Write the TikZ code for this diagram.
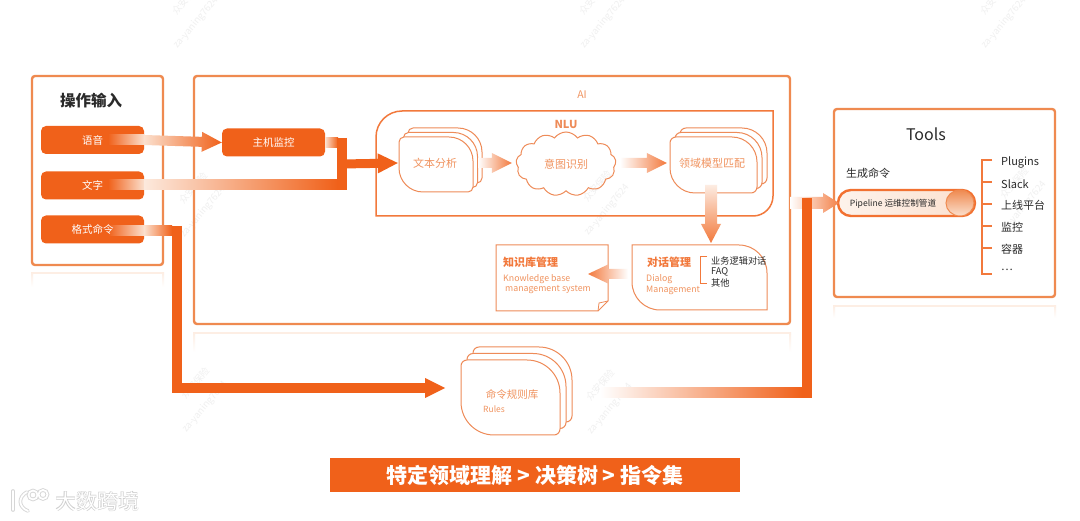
\documentclass[tikz,border=0pt]{standalone}
\usepackage{fontspec}
\setmainfont{Noto Sans CJK SC}
\usetikzlibrary{calc,shapes.symbols}
\definecolor{ora}{HTML}{F0611A}
\definecolor{fra}{HTML}{EF8A50}
\definecolor{crd}{HTML}{EE8B58}
\definecolor{txo}{HTML}{F0935F}
\definecolor{lite}{HTML}{FBE0CE}
\definecolor{wmc}{HTML}{F0F0F0}
\definecolor{ink}{HTML}{2A2A2A}
\tikzset{
  framebox/.style={draw=fra,line width=2.4pt,rounded corners=3pt},
  btn/.style={fill=ora,rounded corners=5pt,minimum height=28pt,minimum width=103pt,inner sep=0pt},
  btntext/.style={inner sep=0pt,text=white,font=\fontsize{10.5}{12}\selectfont},
  route/.style={draw=ora,line width=10pt,miter limit=10},
  softline/.style={draw=crd,line width=1pt,fill=white},
  lbl/.style={inner sep=0pt,text=txo,font=\fontsize{11}{13}\selectfont},
  lblb/.style={inner sep=0pt,text=ora!85!white,font=\fontsize{11}{13}\selectfont\bfseries},
  lbls/.style={inner sep=0pt,anchor=west,text=txo,font=\fontsize{8.8}{10}\selectfont},
  dark/.style={inner sep=0pt,anchor=west,text=ink,font=\fontsize{11}{13}\selectfont},
  wm/.style={inner sep=0pt,text=wmc,rotate=50,font=\fontsize{9.5}{11}\selectfont},
  refl/.style={draw=lite!55!white,line width=2pt},
  brk/.style={draw=ora!85!white,line width=1.4pt},
  logogrey/.style={draw=black!16,line width=3.6pt,line cap=round},
  logowhite/.style={draw=white,line width=1.8pt,line cap=round},
}
% x, y, w, h, big radius, small radius : leaf-shaped card
\newcommand\leafcard[6]{%
  \path[softline] (#1+#6,#2) -- (#1+#3-#5,#2) arc[start angle=90,end angle=0,x radius=#5,y radius=-#5]
   -- (#1+#3,#2+#4-#6) arc[start angle=0,end angle=-90,x radius=#6,y radius=-#6]
   -- (#1+#5,#2+#4) arc[start angle=-90,end angle=-180,x radius=#5,y radius=-#5]
   -- (#1,#2+#6) arc[start angle=180,end angle=90,x radius=#6,y radius=-#6] -- cycle;}
% as above, then layer shift dx, dy
\newcommand\stackcard[8]{%
  \leafcard{#1+2*#7}{#2-2*#8}{#3}{#4}{#5}{#6}\leafcard{#1+#7}{#2-#8}{#3}{#4}{#5}{#6}\leafcard{#1}{#2}{#3}{#4}{#5}{#6}}
% style, from, to, half shaft, head length, half head
\newcommand\gradarrow[6]{%
  \coordinate (ga) at #2; \coordinate (gb) at #3;
  \coordinate (gh) at ($(gb)!#5pt!(ga)$);
  \path[#1] ($(ga)!#4pt!90:(gb)$) -- ($(gh)!#4pt!90:(gb)$) -- ($(gh)!#6pt!90:(gb)$) -- (gb)
    -- ($(gh)!#6pt!-90:(gb)$) -- ($(gh)!#4pt!-90:(gb)$) -- ($(ga)!#4pt!-90:(gb)$) -- cycle;}
% x left, y top, x right, y bottom: faint reflection under a frame
\newcommand\reflect[4]{%
  \draw[refl] (#1,#2) -- (#3,#2);
  \path[top color=lite!55!white,bottom color=white] (#1-1,#2) rectangle (#1+1,#4);
  \path[top color=lite!55!white,bottom color=white] (#3-1,#2) rectangle (#3+1,#4);}
\begin{document}
\begin{tikzpicture}[x=1pt,y=-1pt]
\useasboundingbox (0,0) rectangle (1080,521);
\fill[white] (0,0) rectangle (1080,521);
% watermarks
\foreach \i/\x/\y in {a/186/-1,b/593/-1,c/994/-1,d/193/188,e/597/186,f/1014/183,g/195/383,h/600/385}{
  \node[wm] (wm\i) at (\x,\y) {众安保险};
  \node[wm] (wz\i) at (\x+10,\y+24) {za-yaning7624};
}
% reflections
\reflect{32}{273}{163}{287}
\reflect{194}{333}{790}{352}
\reflect{834}{306}{1055}{318}
% frames
\draw[framebox] (32,76) rectangle (163,265);
\draw[framebox] (194,76) rectangle (790,324);
\draw[framebox] (834,109) rectangle (1055,297);
\node[inner sep=0pt,text=ink,font=\fontsize{15.5}{17}\selectfont\bfseries] (tin) at (91,101) {操作输入};
\node[inner sep=0pt,text=txo,font=\fontsize{10.5}{12}\selectfont] (tai) at (582,95) {AI};
\node[inner sep=0pt,text=ink,font=\fontsize{16}{18}\selectfont] (ttools) at (926,134) {Tools};
% NLU frame
\draw[draw=ora!85!white,line width=1.5pt] (402,111) -- (773,111) -- (773,196)
  arc[start angle=0,end angle=-90,x radius=20,y radius=-20] -- (376,216) -- (376,137)
  arc[start angle=180,end angle=90,x radius=26,y radius=-26] -- cycle;
\node[lbl,text=crd,font=\fontsize{11}{13}\selectfont\bfseries] (tnlu) at (566,124) {NLU};
% buttons
\node[btn] (yy) at (92.5,140) {};
\node[btn] (wz) at (92.5,185.5) {};
\node[btn] (gs) at (92.5,229.5) {};
\node[btn] (zj) at (273.5,142.5) {};
% faded shafts inside the buttons
\path[left color=ora,right color=lite] (108,135) rectangle (yy.east|-0,145);
\path[left color=ora,right color=lite] (108,180) rectangle (wz.east|-0,190);
\path[left color=ora,right color=lite] (108,226) rectangle (gs.east|-0,236);
\node[btntext] (yyt) at (yy) {语音};
\node[btntext] (wzt) at (wz) {文字};
\node[btntext] (gst) at (gs) {格式命令};
\node[btntext] (zjt) at (zj) {主机监控};
% route from 主机监控 and 文字 to 文本分析
\gradarrow{left color=lite,right color=ora}{(yy.east)}{(zj.west)}{5}{20}{10}
\path[left color=lite,right color=ora] ($(zj.east)+(0,-5)$) rectangle (338,148);
\path[left color=lite!70!white,right color=ora] (wz.east|-0,180) rectangle (338,190);
\coordinate (jt) at (342,138); \coordinate (jb) at (342,190); \coordinate (jm) at (342,164);
\draw[route] (jt) -- (jb);
% cards
\stackcard{399}{137}{74}{55}{24}{5}{4.5}{4.5}
\node[lbl] (wb) at (435,163) {文本分析};
\gradarrow{left color=ora,right color=ora}{(jm)}{($(wb.west)+(-15,0)$)}{4.5}{20}{10}
\node[draw=crd,line width=1pt,cloud,cloud puffs=13,cloud puff arc=110,aspect=1.6,minimum width=100pt,minimum height=64pt,inner sep=0pt,text=txo,font=\fontsize{11}{13}\selectfont] (yt) at (566,164) {意图识别};
\stackcard{670}{137}{87}{56}{25}{6}{5}{4.5}
\node[lbl] (ly) at (712,163) {领域模型匹配};
\gradarrow{left color=white,right color=ora!85!white}{(478,163)}{($(yt.west)+(-4,-1)$)}{5}{20}{10}
\gradarrow{left color=white,right color=ora!85!white}{(620,163)}{($(ly.west)+(-12,0)$)}{5}{20}{10}
% dialog
\leafcard{632}{245}{135}{65}{28}{0}
\node[lblb] (dm) at (669,262) {对话管理};
\node[lbls] (dm1) at (646,279) {Dialog};
\node[lbls] (dm2) at (646,290) {Management};
\draw[draw=ora!85!white,line width=1pt] (707,257) -- (700,257) -- (700,284) -- (707,284);
\node[dark,font=\fontsize{9.2}{11}\selectfont] (d1) at (711,261) {业务逻辑对话};
\node[dark,font=\fontsize{9.2}{11}\selectfont] (d2) at (711,272) {FAQ};
\node[dark,font=\fontsize{9.2}{11}\selectfont] (d3) at (711,283) {其他};
\gradarrow{top color=lite!60!white,bottom color=ora!85!white}{(711,185)}{(711,243)}{6}{19}{10}
% knowledge doc
\path[softline] (496,245) -- (608,245) -- (608,301) -- (598,311) -- (496,311) -- cycle;
\path[draw=crd,line width=.8pt] (608,301) -- (599,303) -- (598,311);
\node[lblb,anchor=west] (kb) at (503,262) {知识库管理};
\node[lbls] (kb1) at (503,279) {Knowledge base};
\node[lbls] (kb2) at (505,290) {management system};
\gradarrow{left color=ora!85!white,right color=white}{(628,274)}{(588,274)}{5}{20}{9.5}
% format route
\path[left color=lite,right color=ora] (gs.east|-0,226) rectangle (172,236);
\draw[route] (177,226) -- (177,388) -- (430,388);
\gradarrow{left color=ora,right color=ora}{(425,388)}{(445,388)}{5}{20}{10}
% rules
\stackcard{461}{360}{99}{75}{33}{6}{6}{6.5}
\node[lbl,font=\fontsize{10.5}{12}\selectfont] (rl) at (512,394) {命令规则库};
\node[lbls,font=\fontsize{8.5}{10}\selectfont] (rl2) at (483,409) {Rules};
\path[left color=white,right color=ora] (600,388) rectangle (802,398);
% tools
\node[inner sep=0pt,text=ink,font=\fontsize{11}{13}\selectfont] (sc) at (868,173) {生成命令};
\draw[draw=ora!90!white,line width=2.4pt,left color=lite!40!white,right color=lite,rounded corners=13pt] (838,190) rectangle (975,216);
\draw[draw=fra,line width=1pt,top color=fra,bottom color=lite] (960,203) ellipse[x radius=14,y radius=13];
\node[inner sep=0pt,text=ink,font=\fontsize{8.6}{10}\selectfont] (pp) at (893,204) {Pipeline 运维控制管道};
\gradarrow{left color=white,right color=ora!80!white}{(790,203)}{(839,203)}{6}{16}{10}
\draw[route] (807,398) -- (807,198);
\draw[brk] (992,160) -- (982,160) -- (982,274) -- (992,274);
\foreach \yy in {182,204,226,248} \draw[brk] (982,\yy) -- (992,\yy);
\foreach \n/\yy/\t in {p1/162/Plugins,p2/184/Slack,p3/205/上线平台,p4/227/监控,p5/249/容器}
  \node[dark] (\n) at (1001,\yy) {\t};
\node[dark] (p6) at (1001,270) {\ldots};
% banner
\node[fill=ora,minimum width=410pt,minimum height=34pt,inner sep=0pt,text=white,font=\fontsize{21}{23}\selectfont\bfseries] (bn) at (535,475) {特定领域理解 > 决策树 > 指令集};
% logo
\foreach \st in {logogrey,logowhite}{
  \draw[\st] (13,491) -- (13,510);
  \draw[\st] (27,492) .. controls (18,497) and (18,507) .. (28,511);
  \draw[\st] (33,495) circle[radius=4.5] (43,494.5) circle[radius=4.5];
}
\node[inner sep=0pt,text=black!20,font=\fontsize{21}{23}\selectfont\bfseries] (lgs) at (98,501) {大数跨境};
\node[inner sep=0pt,text=white,font=\fontsize{21}{23}\selectfont] (lg) at (98,501) {大数跨境};
\end{tikzpicture}
\end{document}
